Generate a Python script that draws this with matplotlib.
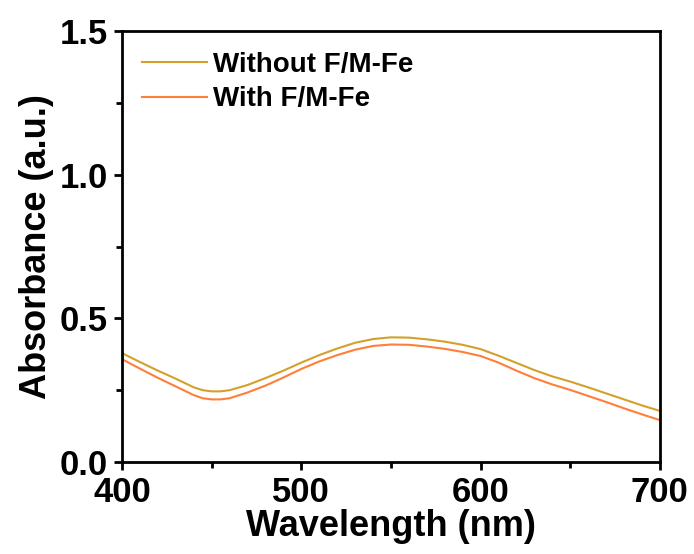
import numpy as np
import matplotlib
matplotlib.use("Agg")
import matplotlib.pyplot as plt
from matplotlib.ticker import MultipleLocator, FormatStrFormatter

plt.rcParams['font.family'] = ['Liberation Sans', 'DejaVu Sans']
plt.rcParams['font.weight'] = 'bold'

# wavelengths (nm) and absorbance
wavelength = [400, 410, 420, 430, 440, 445, 450, 455, 460, 470, 480, 490, 500, 510, 520, 530, 540, 550,
              560, 570, 580, 590, 600, 610, 620, 630, 640, 650, 660, 670, 680, 690, 700]
without_fm = [0.379, 0.348, 0.318, 0.290, 0.260, 0.250, 0.246, 0.246, 0.250, 0.268, 0.292, 0.318, 0.346,
              0.372, 0.395, 0.415, 0.428, 0.434, 0.433, 0.427, 0.419, 0.408, 0.393, 0.370,
              0.345, 0.320, 0.298, 0.280, 0.260, 0.239, 0.218, 0.197, 0.178]
with_fm = [0.358, 0.325, 0.293, 0.263, 0.233, 0.222, 0.218, 0.218, 0.222, 0.242, 0.266, 0.294, 0.324,
           0.350, 0.372, 0.391, 0.404, 0.409, 0.408, 0.402, 0.394, 0.383, 0.369, 0.346,
           0.318, 0.292, 0.270, 0.251, 0.230, 0.209, 0.187, 0.166, 0.146]

fig = plt.figure(figsize=(6.94, 5.54), dpi=100)
ax = fig.add_axes([0.1758, 0.166, 0.775, 0.778])

ax.plot(wavelength, without_fm, color='#D4A02A', lw=1.5, label='Without F/M-Fe')
ax.plot(wavelength, with_fm, color='#FF7F3A', lw=1.5, label='With F/M-Fe')

ax.set_xlim(400, 700)
ax.set_ylim(0, 1.5)
ax.xaxis.set_major_locator(MultipleLocator(100))
ax.xaxis.set_minor_locator(MultipleLocator(50))
ax.yaxis.set_major_locator(MultipleLocator(0.5))
ax.yaxis.set_minor_locator(MultipleLocator(0.25))
ax.yaxis.set_major_formatter(FormatStrFormatter('%.1f'))

for s in ax.spines.values():
    s.set_linewidth(2)
ax.tick_params(which='major', direction='out', length=6, width=2, labelsize=25, pad=4)
ax.tick_params(which='minor', direction='out', length=4, width=2)

ax.set_xlabel('Wavelength (nm)', fontsize=26, fontweight='bold', labelpad=0)
ax.set_ylabel('Absorbance (a.u.)', fontsize=26, fontweight='bold', labelpad=4)

ax.legend(loc='upper left', frameon=False, fontsize=20, handlelength=2.35,
          handletextpad=0.2, labelspacing=0.3, borderaxespad=0, borderpad=0,
          bbox_to_anchor=(0.037, 0.951))

fig.savefig('out.png', dpi=100)
